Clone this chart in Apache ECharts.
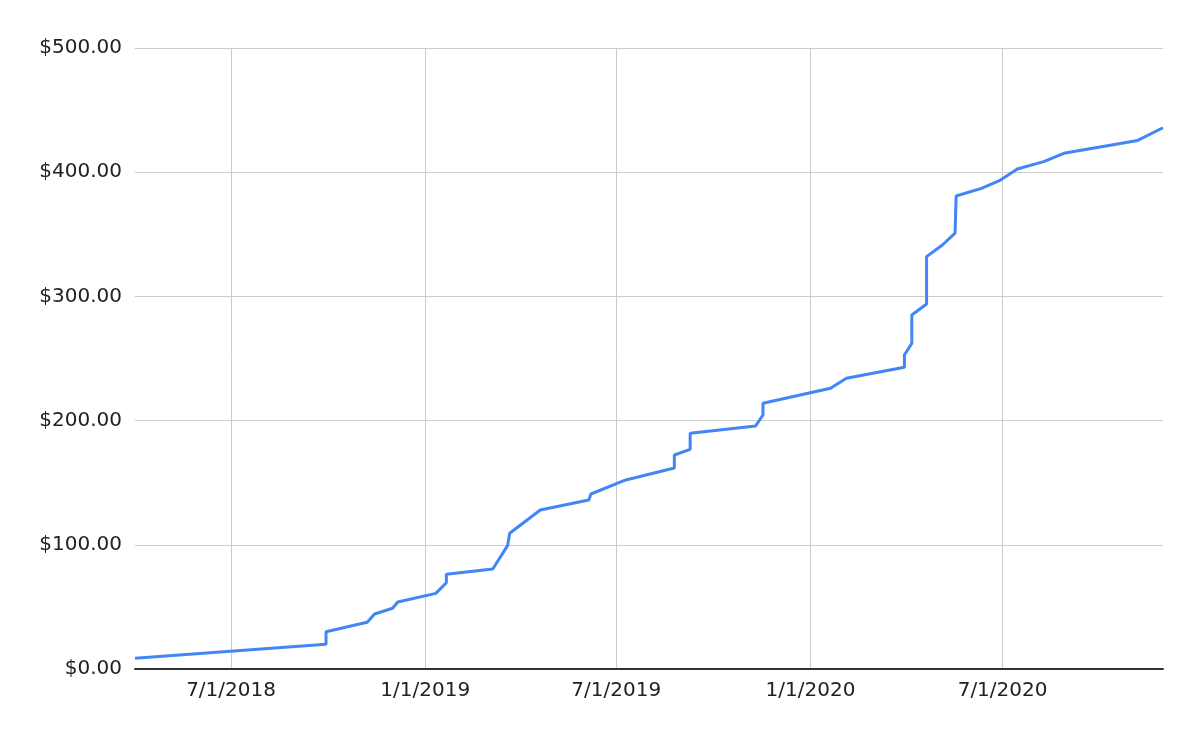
<!DOCTYPE html>
<html>
<head>
<meta charset="utf-8">
<script src="https://cdn.jsdelivr.net/npm/echarts@6/dist/echarts.min.js"></script>
<style>
html,body{margin:0;padding:0;background:#fff;}
#chart{width:1200px;height:742px;}
</style>
</head>
<body>
<div id="chart"></div>
<script>
const dates = [
  '2018-04-01','2018-09-29','2018-09-29','2018-11-07','2018-11-14','2018-12-01','2018-12-06',
  '2019-01-11','2019-01-21','2019-01-21','2019-03-06','2019-03-20','2019-03-22','2019-04-20',
  '2019-06-05','2019-06-07','2019-07-10','2019-08-25','2019-08-25','2019-09-09','2019-09-09',
  '2019-11-10','2019-11-17','2019-11-17','2020-01-20','2020-02-04','2020-03-30','2020-03-30',
  '2020-04-06','2020-04-06','2020-04-20','2020-04-20','2020-05-05','2020-05-17','2020-05-18',
  '2020-06-11','2020-06-28','2020-07-15','2020-08-09','2020-08-28','2020-11-06','2020-11-30'
];
const values = [
  8.6,19.9,30.0,37.6,44.3,48.9,53.9,
  60.9,69.5,76.2,80.5,99.3,109.3,128.0,
  136.1,140.9,152.2,161.8,172.3,176.9,189.8,
  195.7,204.5,213.9,226.0,234.1,242.9,252.8,
  262.2,285.0,293.9,332.0,341.4,351.0,380.8,
  387.0,393.2,402.6,408.5,415.2,425.6,435.8
];
const yTicks = [0,100,200,300,400,500];

const chart = echarts.init(document.getElementById('chart'), null, {renderer:'canvas'});
const FONT = 'DejaVu Sans';
chart.setOption({
  animation:false,
  backgroundColor:'#ffffff',
  grid:{left:135,right:37,top:48,bottom:73,containLabel:false},
  xAxis:{
    type:'time',
    min: new Date(dates[0]+'T00:00:00').getTime(),
    max: new Date(dates[dates.length-1]+'T00:00:00').getTime(),
    splitNumber:5,
    axisLine:{show:true,lineStyle:{color:'#333333',width:2}},
    axisTick:{show:false},
    splitLine:{show:true,showMinLine:false,showMaxLine:false,lineStyle:{color:'#cccccc',width:1}},
    axisLabel:{
      color:'#222222',fontFamily:FONT,fontSize:20,margin:12,
      showMinLabel:false,showMaxLabel:false,
      formatter:function(v){const d=new Date(v);return (d.getMonth()+1)+'/'+d.getDate()+'/'+d.getFullYear();}
    }
  },
  yAxis:{
    type:'value',
    min:yTicks[0],max:yTicks[yTicks.length-1],interval:100,
    axisLine:{show:false},axisTick:{show:false},
    splitLine:{show:true,lineStyle:{color:'#cccccc',width:1}},
    axisLabel:{color:'#222222',fontFamily:FONT,fontSize:20,margin:13,
      formatter:function(v){return '$'+v.toFixed(2);}}
  },
  series:[{
    type:'line',
    data:dates.map((d,i)=>[d,values[i]]),
    showSymbol:false,
    lineStyle:{color:'#4285F4',width:3},
    itemStyle:{color:'#4285F4'}
  }]
});
</script>
</body>
</html>
